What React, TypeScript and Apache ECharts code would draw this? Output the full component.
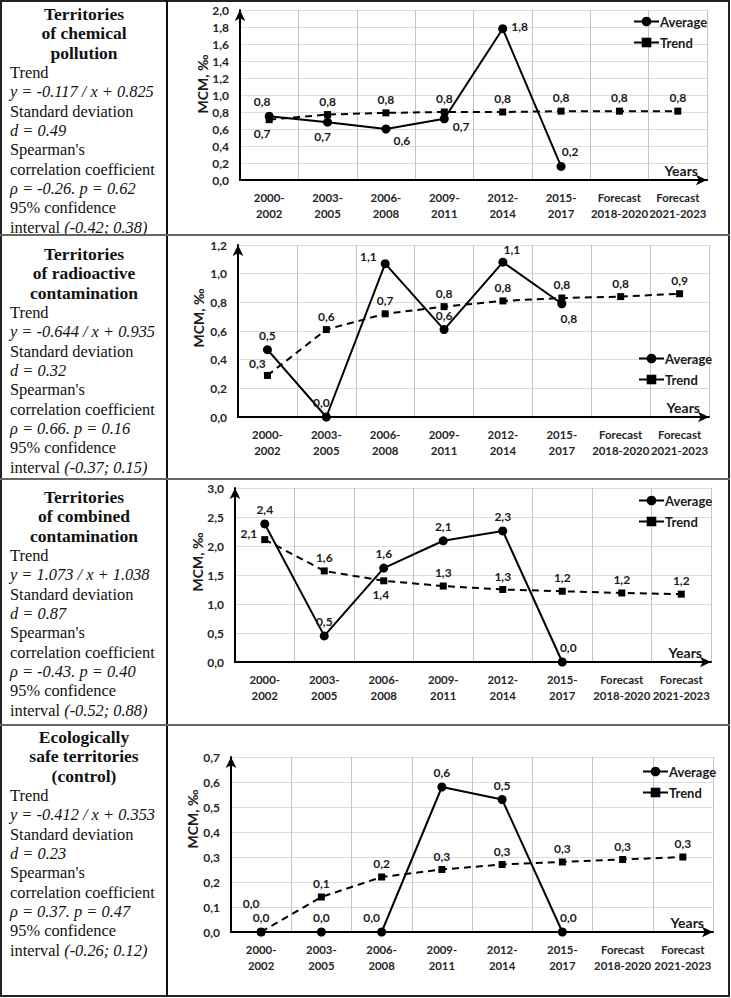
import React, { useEffect, useRef } from "react";
import * as echarts from "echarts";

// ---------- data ----------
const periods = [
  "2000-\n2002",
  "2003-\n2005",
  "2006-\n2008",
  "2009-\n2011",
  "2012-\n2014",
  "2015-\n2017",
  "Forecast\n2018-2020",
  "Forecast\n2021-2023",
];

const chemAverage = [0.75, 0.68, 0.6, 0.72, 1.78, 0.16];
const chemTrend = [0.71, 0.77, 0.79, 0.8, 0.8, 0.81, 0.81, 0.81];

const radioAverage = [0.47, 0.0, 1.07, 0.61, 1.08, 0.79];
const radioTrend = [0.29, 0.61, 0.72, 0.77, 0.81, 0.83, 0.84, 0.86];

const combAverage = [2.38, 0.45, 1.62, 2.09, 2.26, 0.0];
const combTrend = [2.11, 1.57, 1.4, 1.31, 1.25, 1.22, 1.19, 1.17];

const safeAverage = [0.0, 0.0, 0.0, 0.58, 0.53, 0.0];
const safeTrend = [0.0, 0.14, 0.22, 0.25, 0.27, 0.28, 0.29, 0.3];

// ---------- label placement (style) ----------
type LP = [string, number, number];
const chemAvgLbl: LP[] = [["top", -7, 0], ["bottom", -5, 0], ["bottom", 16, -3], ["right", 0, 8], ["right", 0, -2], ["top", 9, 0]];
const chemTrdLbl: LP[] = [["bottom", -7, 0], ["top", 0, 0], ["top", 0, 0], ["top", 0, 0], ["top", 0, 0], ["top", 0, 0], ["top", 0, 0], ["top", 0, 0]];
const radioAvgLbl: LP[] = [["top", 0, 0], ["top", -5, 0], ["left", 0, -7], ["top", 0, 0], ["top", 9, 2], ["bottom", 7, 0]];
const radioTrdLbl: LP[] = [["top", -10, 2], ["top", 0, 0], ["top", 0, 0], ["top", 0, 0], ["top", 0, 0], ["top", 0, 0], ["top", 0, 0], ["top", 0, 0]];
const combAvgLbl: LP[] = [["top", 0, 0], ["top", 0, 0], ["top", 0, 0], ["top", 0, 0], ["top", 0, 0], ["top", 6, 0]];
const combTrdLbl: LP[] = [["left", 0, -6], ["top", 0, 0], ["bottom", -3, 0], ["top", 0, 0], ["top", 0, 0], ["top", 0, 0], ["top", 0, 0], ["top", 0, 0]];
const safeAvgLbl: LP[] = [["top", 0, 0], ["top", 0, 0], ["top", -10, 0], ["top", 0, 0], ["top", 0, 0], ["top", 6, 0]];
const safeTrdLbl: LP[] = [["top", -10, -15], ["top", 0, 0], ["top", 0, 0], ["top", 0, 0], ["top", 0, 0], ["top", 0, 0], ["top", 0, 0], ["top", 0, 0]];

const FONT = "Lato";
const INK = "#1a1a1a";

type Cfg = {
  top: number;
  height: number;
  avg: number[];
  trend: number[];
  avgLbl: LP[];
  trdLbl: LP[];
  yMax: number;
  yInt: number;
  grid: { top: number; bottom: number; left: number; right: number };
  legend: { left: number; top: number };
  yName: { x: number; y: number };
};

const charts: Cfg[] = [
  {
    top: 2, height: 232, avg: chemAverage, trend: chemTrend, avgLbl: chemAvgLbl, trdLbl: chemTrdLbl,
    yMax: 2, yInt: 0.2, grid: { top: 8, bottom: 54, left: 72, right: 21 },
    legend: { left: 460, top: 8 }, yName: { x: 34, y: 82 },
  },
  {
    top: 236, height: 242, avg: radioAverage, trend: radioTrend, avgLbl: radioAvgLbl, trdLbl: radioTrdLbl,
    yMax: 1.2, yInt: 0.2, grid: { top: 9, bottom: 61, left: 70, right: 19 },
    legend: { left: 465, top: 111 }, yName: { x: 30, y: 82 },
  },
  {
    top: 480, height: 244, avg: combAverage, trend: combTrend, avgLbl: combAvgLbl, trdLbl: combTrdLbl,
    yMax: 3, yInt: 0.5, grid: { top: 8, bottom: 62, left: 67, right: 17 },
    legend: { left: 465, top: 9 }, yName: { x: 29, y: 82 },
  },
  {
    top: 726, height: 269, avg: safeAverage, trend: safeTrend, avgLbl: safeAvgLbl, trdLbl: safeTrdLbl,
    yMax: 0.7, yInt: 0.1, grid: { top: 31, bottom: 63, left: 63, right: 15 },
    legend: { left: 469, top: 34 }, yName: { x: 24, y: 93 },
  },
];

const fmt = (v: number) => v.toFixed(1).replace(".", ",");

function buildOption(c: Cfg) {
  const mk = (vals: number[], lp: LP[]) =>
    vals.map((v, i) => ({
      value: v,
      label: { position: lp[i][0], offset: [lp[i][1], lp[i][2]] },
    }));
  const lblStyle = {
    show: true,
    fontFamily: FONT,
    fontWeight: "bold",
    fontSize: 12,
    color: INK,
    distance: 4,
    formatter: (p: any) => fmt(p.value),
  };
  return {
    animation: false,
    grid: c.grid,
    legend: {
      orient: "vertical",
      left: c.legend.left,
      top: c.legend.top,
      itemWidth: 25,
      itemHeight: 12,
      itemGap: 8,
      lineStyle: { type: "solid" },
      textStyle: { fontFamily: FONT, fontWeight: "bold", fontSize: 13, color: INK, padding: [0, 0, 0, -4] },
      data: ["Average", "Trend"],
    },
    graphic: [
      {
        type: "text",
        x: c.yName.x,
        y: c.yName.y,
        rotation: Math.PI / 2,
        style: {
          text: "MCM, ‰",
          font: `bold 14px ${FONT}`,
          fill: INK,
          align: "center",
          verticalAlign: "middle",
        },
      },
    ],
    xAxis: {
      type: "category",
      data: periods,
      boundaryGap: true,
      name: "Years",
      nameLocation: "end",
      nameGap: -9,
      nameTextStyle: {
        fontFamily: FONT,
        fontWeight: "bold",
        fontSize: 14,
        color: INK,
        align: "right",
        verticalAlign: "bottom",
        padding: [0, 0, 3, 0],
      },
      axisLine: { lineStyle: { color: "#000", width: 2 }, symbol: ["none", "arrow"], symbolSize: [8, 11] },
      axisTick: { show: false },
      axisLabel: {
        interval: 0,
        margin: 9,
        fontFamily: FONT,
        fontWeight: "bold",
        fontSize: 11.4,
        lineHeight: 16,
        color: "#262626",
      },
      splitLine: { show: true, interval: 0, lineStyle: { color: "#c4c4c4", width: 1 } },
    },
    yAxis: {
      type: "value",
      min: 0,
      max: c.yMax,
      interval: c.yInt,
      axisLine: { show: true, lineStyle: { color: "#000", width: 2 }, symbol: ["none", "arrow"], symbolSize: [8, 11] },
      axisTick: { show: false },
      axisLabel: {
        margin: 11,
        fontFamily: FONT,
        fontWeight: "bold",
        fontSize: 12,
        color: "#262626",
        formatter: (v: number) => fmt(v),
      },
      splitLine: { show: true, lineStyle: { color: "#dcdcdc", width: 1 } },
    },
    series: [
      {
        name: "Average",
        type: "line",
        z: 3,
        data: mk(c.avg, c.avgLbl),
        symbol: "circle",
        symbolSize: 9,
        lineStyle: { color: "#000", width: 2 },
        itemStyle: { color: "#000" },
        label: lblStyle,
      },
      {
        name: "Trend",
        type: "line",
        z: 2,
        data: mk(c.trend, c.trdLbl),
        symbol: "rect",
        symbolSize: 7,
        lineStyle: { color: "#000", width: 2, type: [7, 5] },
        itemStyle: { color: "#000" },
        label: lblStyle,
      },
    ],
  };
}

function MiniChart({ cfg }: { cfg: Cfg }) {
  const ref = useRef<HTMLDivElement>(null);
  useEffect(() => {
    const chart = echarts.init(ref.current!, null, { renderer: "svg" });
    chart.setOption(buildOption(cfg) as any);
    return () => chart.dispose();
  }, [cfg]);
  return (
    <div
      ref={ref}
      style={{ position: "absolute", left: 168, top: cfg.top, width: 560, height: cfg.height }}
    />
  );
}

// ---------- left column texts ----------
const rows = [
  { top: 5, title: ["Territories", "of chemical", "pollution"], eq: "y = -0.117 / x + 0.825", d: "d = 0.49", rho: "ρ = -0.26. p = 0.62", ci: "(-0.42; 0.38)" },
  { top: 245, title: ["Territories", "of radioactive", "contamination"], eq: "y = -0.644 / x + 0.935", d: "d = 0.32", rho: "ρ = 0.66. p = 0.16", ci: "(-0.37; 0.15)" },
  { top: 488, title: ["Territories", "of combined", "contamination"], eq: "y = 1.073 / x + 1.038", d: "d = 0.87", rho: "ρ = -0.43. p = 0.40", ci: "(-0.52; 0.88)" },
  { top: 728, title: ["Ecologically", "safe territories", "(control)"], eq: "y = -0.412 / x + 0.353", d: "d = 0.23", rho: "ρ = 0.37. p = 0.47", ci: "(-0.26; 0.12)" },
];

const SERIF = "'Liberation Serif', Tinos, 'Times New Roman', 'Nimbus Roman', 'DejaVu Serif', serif";

function RowText({ r }: { r: (typeof rows)[number] }) {
  const lh = 19.35;
  return (
    <div
      style={{
        position: "absolute",
        left: 10,
        top: r.top,
        width: 150,
        fontFamily: SERIF,
        fontSize: 16.4,
        lineHeight: `${lh}px`,
        color: "#111",
        whiteSpace: "nowrap",
      }}
    >
      {r.title.map((t, i) => (
        <div key={i} style={{ fontWeight: "bold", fontSize: 17.5, textAlign: "center", width: 148 }}>
          {t}
        </div>
      ))}
      <div>Trend</div>
      <div style={{ fontStyle: "italic" }}>{r.eq}</div>
      <div>Standard deviation</div>
      <div style={{ fontStyle: "italic" }}>{r.d}</div>
      <div>Spearman's</div>
      <div>correlation coefficient</div>
      <div style={{ fontStyle: "italic" }}>{r.rho}</div>
      <div>95% confidence</div>
      <div>
        interval <span style={{ fontStyle: "italic" }}>{r.ci}</span>
      </div>
    </div>
  );
}

export default function App() {
  return (
    <div
      style={{
        position: "fixed",
        left: 0,
        top: 0,
        width: 731,
        height: 998,
        background: "#fff",
        overflow: "hidden",
      }}
    >
      {rows.map((r, i) => (
        <RowText key={i} r={r} />
      ))}
      {charts.map((c, i) => (
        <MiniChart key={i} cfg={c} />
      ))}
      {/* table lines */}
      <div style={{ position: "absolute", left: 0, top: 0, width: 730, height: 997, border: "2px solid #222", boxSizing: "border-box", pointerEvents: "none" }} />
      <div style={{ position: "absolute", left: 166, top: 0, width: 2, height: 997, background: "#111" }} />
      {[234, 478, 724].map((y) => (
        <div key={y} style={{ position: "absolute", left: 0, top: y, width: 730, height: 2, background: "#666" }} />
      ))}
    </div>
  );
}
